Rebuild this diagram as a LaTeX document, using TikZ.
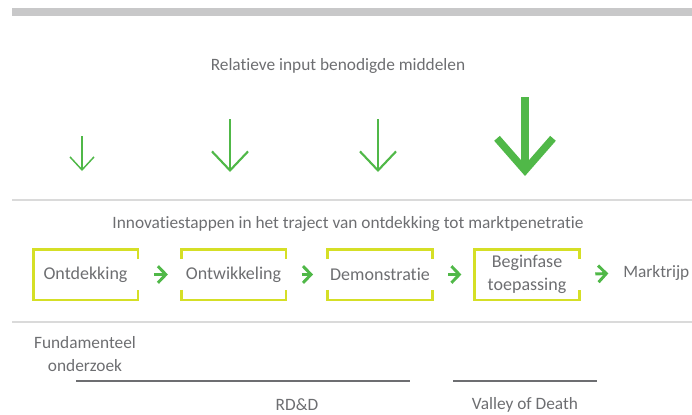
\documentclass[tikz,border=0pt]{standalone}
\usepackage{fontspec}
\setmainfont{Carlito}[RawFeature={-liga;-dlig;-clig;-rlig}]
\usepackage{tikz}
\usetikzlibrary{calc,arrows.meta}
\definecolor{txtg}{HTML}{6D6E71}
\definecolor{barg}{HTML}{C8C8C9}
\definecolor{sepg}{HTML}{DADADA}
\definecolor{leaf}{HTML}{50B848}
\definecolor{lime}{HTML}{D5DF26}
\tikzset{
  lbl/.style={text=txtg,font=\fontsize{13}{16.5}\selectfont,inner sep=0pt},
  stage/.style={text=txtg,font=\fontsize{13.5}{16.5}\selectfont,align=center,
    minimum width=78pt,minimum height=37.5pt,inner sep=0pt},
  frm/.style={lime,line width=1.9pt},
  flow/.style={leaf,line width=2.2pt,-{Straight Barb[length=6pt,width=12.5pt]}},
  sep/.style={sepg,line width=0.8pt},
  span/.style={txtg,line width=1.9pt}
}
\begin{document}
\begin{tikzpicture}[x=0.75pt,y=-0.75pt]
\useasboundingbox (0,0) rectangle (692,414);
\fill[barg] (12,8) rectangle (692,16);
\draw[sep] (12,200) -- (692,200);
\draw[sep] (12,322) -- (692,322);
% resources per stage
\node[lbl] (inp) at (338,66) {Relatieve input benodigde middelen};
\foreach \n/\x/\t/\b/\w/\l/\h in {1/82/136/171/1.1/9.75/18, 2/230/119/172/1.6/14.25/27,
    3/378/119/172/1.6/14.25/27, 4/525/97/176/5.6/24/42}{
  \coordinate (r\n t) at (\x,\t);
  \coordinate (r\n b) at (\x,\b);
  \draw[leaf,line width=\w pt,-{Straight Barb[length=\l pt,width=\h pt]}] (r\n t) -- (r\n b);
}
% stages
\node[lbl] (inno) at (348,224) {Innovatiestappen in het traject van ontdekking tot marktpenetratie};
\node[stage] (ontd) at (85.5,274.5) {Ontdekking};
\node[stage] (ontw) at (233.5,274.5) {Ontwikkeling};
\node[stage] (demo) at (380,274.5) {Demonstratie};
\node[stage] (begf) at (527,274.5) {Beginfase\\[1pt]toepassing};
\node[lbl,anchor=west] (mrkt) at (623,273) {Marktrijp};
\draw[frm] ($(ontd.north east)+(0,10)$) -- (ontd.north east) -- (ontd.north west)
  -- (ontd.south west) -- (ontd.south east) -- ++(0,-10);
\draw[frm] ($(begf.north east)+(0,10)$) -- (begf.north east) -- (begf.north west)
  -- (begf.south west) -- (begf.south east) -- ++(0,-10);
\foreach \s in {ontw,demo}{
  \draw[frm] ($(\s.north west)+(0,10)$) -- (\s.north west) -- (\s.north east) -- ++(0,10);
  \draw[frm] ($(\s.south west)+(0,-10)$) -- (\s.south west) -- (\s.south east) -- ++(0,-10);
}
\draw[flow,shorten <=12,shorten >=10] (ontd) -- (ontw);
\draw[flow,shorten <=12,shorten >=11] (ontw) -- (demo);
\draw[flow,shorten <=12,shorten >=10] (demo) -- (begf);
\draw[flow,shorten <=12,shorten >=11] (begf.east) -- (mrkt.west);
% phases
\node[lbl,align=center] (fund) at (85,354) {Fundamenteel\\[1pt]onderzoek};
\coordinate (rdl) at (76,381);
\coordinate (rdr) at (410,381);
\coordinate (vdl) at (453,381);
\coordinate (vdr) at (597,381);
\draw[span] (rdl) -- (rdr);
\draw[span] (vdl) -- (vdr);
\node[lbl] (rdd) at (297,404.5) {RD\&D};
\node[lbl] (vod) at (525,404.5) {Valley of Death};
\end{tikzpicture}
\end{document}
